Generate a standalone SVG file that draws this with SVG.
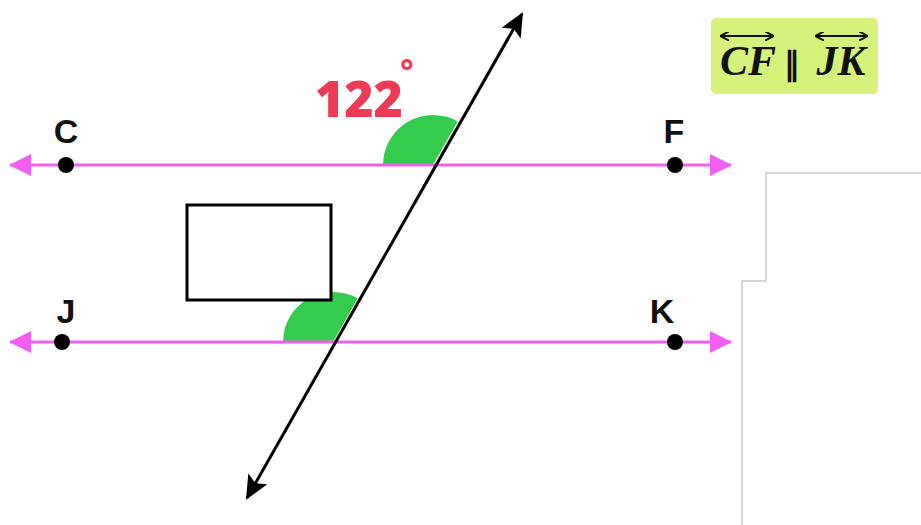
<svg xmlns="http://www.w3.org/2000/svg" width="921" height="525" viewBox="0 0 921 525">
<style>
.par{stroke:#f25ef2;stroke-width:3;fill:none}
.pt{fill:#000}
.lbl{font-family:"Liberation Sans",Arial,sans-serif;font-weight:bold;font-size:34px;fill:#111;text-anchor:middle}
.ang{fill:#35cc4e}
.mth{font-family:"Liberation Serif",serif;font-weight:bold;font-style:italic;font-size:42px;fill:#111}
</style>
<defs>
<marker id="mag" viewBox="0 0 22 22" refX="21" refY="11" markerWidth="22" markerHeight="22" markerUnits="userSpaceOnUse" orient="auto-start-reverse">
<path d="M0,0 L22,11 L0,22 Z" fill="#f25ef2"/>
</marker>
<marker id="blk" viewBox="0 0 24 22" refX="22" refY="11" markerWidth="24" markerHeight="22" markerUnits="userSpaceOnUse" orient="auto-start-reverse">
<path d="M0,0 L24,11 L0,22 L5,11 Z" fill="#000"/>
</marker>
<marker id="sm" viewBox="0 0 9 9" refX="8" refY="4.5" markerWidth="9" markerHeight="9" markerUnits="userSpaceOnUse" orient="auto-start-reverse">
<path d="M0,0 L9,4.5 L0,9" fill="none" stroke="#111" stroke-width="2"/>
</marker>
</defs>
<rect width="921" height="525" fill="#fff"/>
<g id="frame">
<polyline points="742,525 742,281 766,281 766,173 921,173" fill="none" stroke="#c8c8c8" stroke-width="1.5"/>
</g>
<g id="angles">
<path class="ang" d="M433,165 L383,165 A50,50 0 0,1 457.7,121.5 Z"/>
<path class="ang" d="M333,342 L283,342 A50,50 0 0,1 357.7,298.5 Z"/>
</g>
<g id="connectors">
<line id="lineCF" class="par" x1="10" y1="165" x2="731" y2="165" marker-start="url(#mag)" marker-end="url(#mag)"/>
<line id="lineJK" class="par" x1="10" y1="342" x2="731" y2="342" marker-start="url(#mag)" marker-end="url(#mag)"/>
<line id="transversal" x1="247" y1="498" x2="522" y2="14" stroke="#000" stroke-width="3" marker-start="url(#blk)" marker-end="url(#blk)"/>
</g>
<g id="C"><circle class="pt" cx="66" cy="165" r="8"/><text class="lbl" x="66" y="143">C</text></g>
<g id="F"><circle class="pt" cx="675" cy="165" r="8"/><text class="lbl" x="674" y="143">F</text></g>
<g id="J"><circle class="pt" cx="62" cy="342" r="8"/><text class="lbl" x="66" y="323">J</text></g>
<g id="K"><circle class="pt" cx="675" cy="342" r="8"/><text class="lbl" x="662" y="323">K</text></g>
<g id="angleLabel">
<text x="315" y="117" font-family="Open Sans, Liberation Sans, sans-serif" font-weight="800" font-size="50" fill="#ee3a55">122<tspan font-size="32" font-weight="bold" dx="-3" dy="-34">°</tspan></text>
</g>
<g id="blank">
<rect x="187" y="205" width="144" height="95" fill="#fff" stroke="#000" stroke-width="3"/>
</g>
<g id="statement">
<rect x="711" y="18" width="167" height="76" rx="5" fill="#d6f27a"/>
<text class="mth" x="748" y="75" text-anchor="middle">CF</text>
<text x="792" y="75" font-family="Liberation Serif, serif" font-weight="bold" font-size="32" fill="#111" text-anchor="middle">∥</text>
<text class="mth" x="841" y="75" text-anchor="middle">JK</text>
<line x1="721" y1="36" x2="773" y2="36" stroke="#111" stroke-width="2" marker-start="url(#sm)" marker-end="url(#sm)"/>
<line x1="816" y1="36" x2="867" y2="36" stroke="#111" stroke-width="2" marker-start="url(#sm)" marker-end="url(#sm)"/>
</g>
</svg>
